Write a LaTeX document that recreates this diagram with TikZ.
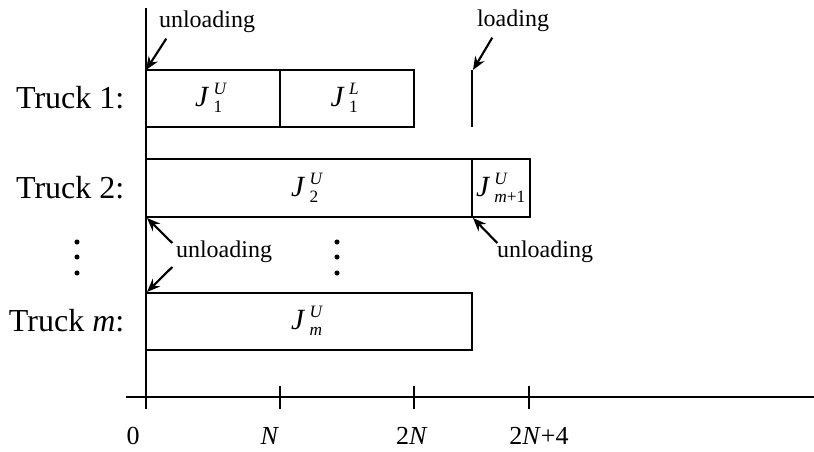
\documentclass[tikz,border=0pt]{standalone}
\usepackage{amsmath}
\usepackage{fontspec}
\setmainfont{Liberation Serif}
\usetikzlibrary{arrows.meta}

\newcommand{\jobtag}[2]{$\textit{J}^{\;\hbox{\fontsize{13}{15}\selectfont\itshape #2}}_{\;\hbox{\fontsize{13}{15}\selectfont #1}}$}

\tikzset{
  truck/.style={font=\fontsize{24}{27}\selectfont, anchor=east, inner sep=0pt},
  note/.style={font=\fontsize{18}{20}\selectfont, inner sep=0pt},
  ticklbl/.style={font=\fontsize{19.5}{22}\selectfont, inner sep=0pt},
  job/.style={font=\fontsize{22}{26}\selectfont, inner sep=0pt},
  pointer/.style={-{Stealth[length=10pt,width=8pt]}, line width=1.6pt},
}

\begin{document}
\begin{tikzpicture}[x=0.75pt,y=-0.75pt,line width=1.1pt]
\useasboundingbox (0,0) rectangle (814,451);

\draw (146,8) -- (146,409);
\draw (126,397) -- (814,397);
\foreach \x in {146,280,414,529}
  \draw (\x,386) -- (\x,409);

\node[ticklbl] (t0) at (133,436) {0};
\node[ticklbl] (t1) at (270,436) {\textit{N}};
\node[ticklbl] (t2) at (412,436) {2\textit{N}};
\node[ticklbl] (t3) at (539,436) {2\textit{N}+4};

% truck 1
\draw (146,70) rectangle (414,127);
\draw (280,70) -- (280,127);
\draw (472,70) -- (472,127);
\node[truck] (tr1) at (125,98) {Truck 1:};
\node[job] (j1u) at (211,98) {\jobtag{1}{U}};
\node[job] (j1l) at (345,98) {\jobtag{1}{L}};

% truck 2
\draw (146,159) rectangle (530,217);
\draw (472,159) -- (472,217);
\node[truck] (tr2) at (125,188) {Truck 2:};
\node[job] (j2u) at (307,188) {\jobtag{2}{U}};
\node[job] (jmp) at (501,188) {\jobtag{\textit{m}+1}{U}};

% truck m
\draw (146,293) rectangle (472,350);
\node[truck] (trm) at (125,321) {Truck \textit{m}:};
\node[job] (jmu) at (307,321) {\jobtag{\textit{m}}{U}};

\foreach \y in {242,257,273} {
  \fill (77,\y) circle (1.9pt);
  \fill (337,\y) circle (1.9pt);
}

\coordinate (c1) at (146,70);
\coordinate (c2) at (473,70);
\coordinate (c3) at (147,218);
\coordinate (c4) at (147,292);
\coordinate (c5) at (473,218);

\node[note] (u1) at (207,22) {unloading};
\node[note] (ld) at (513,21) {loading};
\node[note] (u2) at (224,252) {unloading};
\node[note] (u3) at (545,252) {unloading};

\draw[pointer] ([shift={(8,5)}]u1.south west) -- (c1);
\draw[pointer] ([shift={(16,5)}]ld.south west) -- (c2);
\draw[pointer] ([shift={(-3,-9)}]u2.west) -- (c3);
\draw[pointer] ([shift={(-3,15)}]u2.west) -- (c4);
\draw[pointer] ([shift={(1,-9)}]u3.west) -- (c5);
\end{tikzpicture}
\end{document}
